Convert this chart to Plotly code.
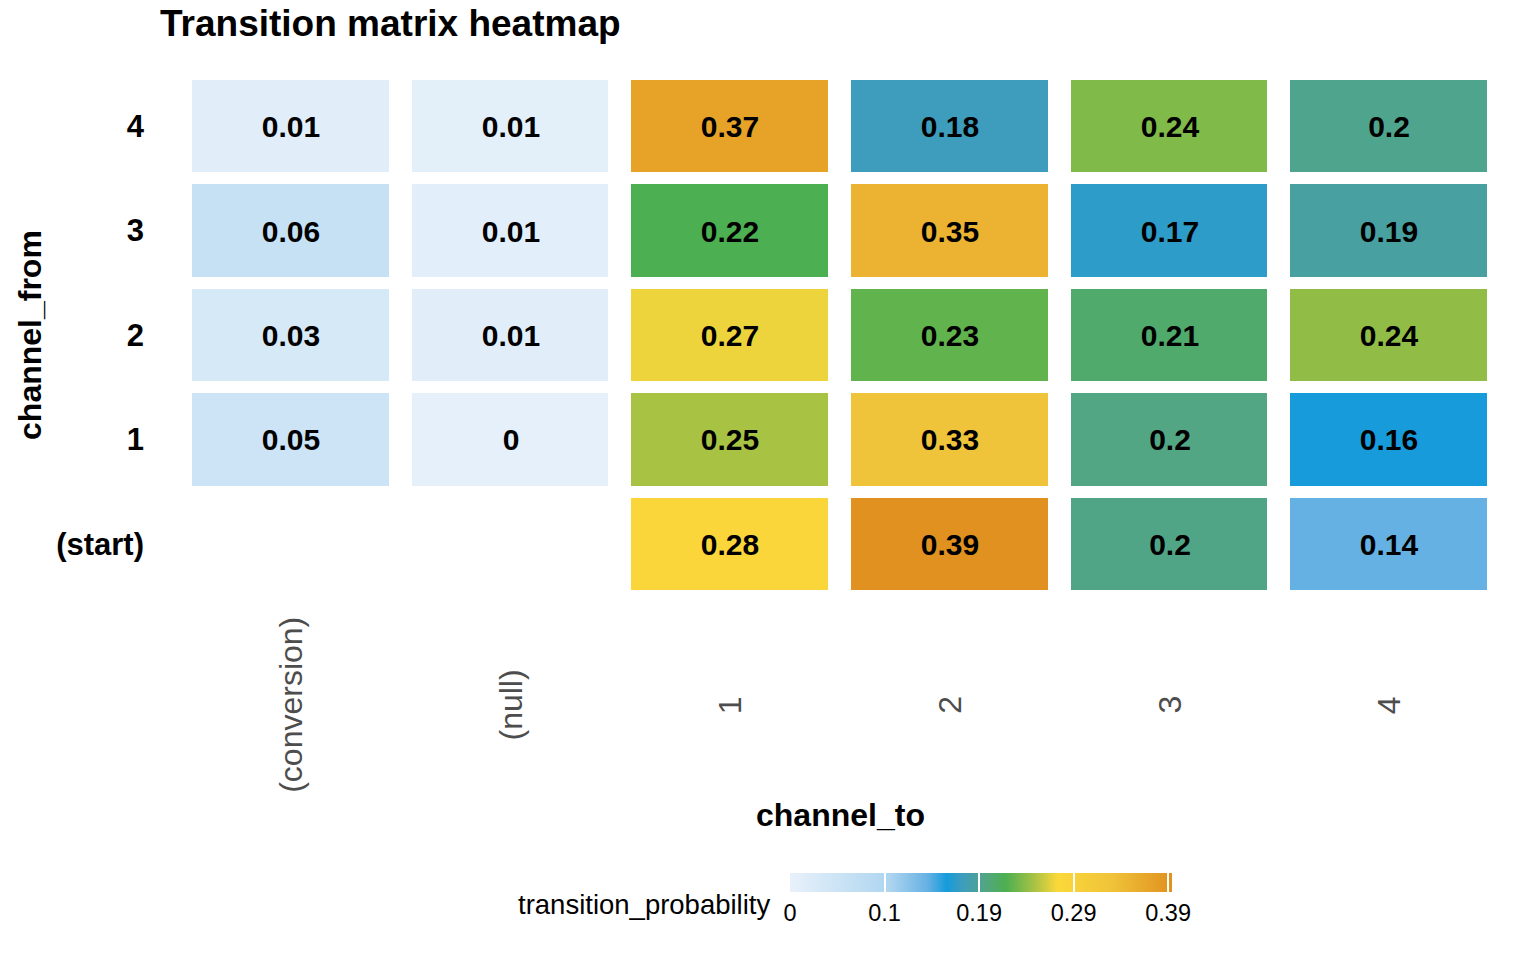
import numpy as np
import plotly.graph_objects as go

channel_to = ["(conversion)", "(null)", "1", "2", "3", "4"]
channel_from = ["(start)", "1", "2", "3", "4"]

# transition probabilities, one list per channel_from (bottom to top)
p_start = [None, None, 0.281, 0.394, 0.200, 0.142]
p_1 = [0.049, 0.004, 0.252, 0.331, 0.201, 0.162]
p_2 = [0.031, 0.012, 0.272, 0.229, 0.211, 0.2445]
p_3 = [0.058, 0.010, 0.222, 0.352, 0.171, 0.191]
p_4 = [0.012, 0.008, 0.372, 0.178, 0.239, 0.198]

cbar_ticks = [0, 0.0975, 0.195, 0.2925, 0.39]
cbar_labels = ["0", "0.1", "0.19", "0.29", "0.39"]

z = np.array([p_start, p_1, p_2, p_3, p_4], dtype=float)
text = [["" if np.isnan(v) else f"{round(v, 2):g}" for v in row] for row in z]

colorscale = [
    [0.0, "#e8f1fa"],
    [0.26, "#aed5f0"],
    [0.36, "#66b1e3"],
    [0.41, "#169bdc"],
    [0.45, "#3d9dbd"],
    [0.49, "#4aa09c"],
    [0.51, "#52a684"],
    [0.565, "#4caf50"],
    [0.64, "#a9c244"],
    [0.70, "#fbd83a"],
    [0.84, "#f0c43a"],
    [1.0, "#e0911f"],
]

FONT = "Liberation Sans, Arial, sans-serif"

fig = go.Figure(
    go.Heatmap(
        x=channel_to,
        y=channel_from,
        z=z,
        text=text,
        texttemplate="%{text}",
        textfont=dict(family=FONT, size=30, color="black", weight="bold"),
        colorscale=colorscale,
        zmin=0,
        zmax=np.nanmax(z),
        xgap=23,
        ygap=12,
        hoverongaps=False,
        colorbar=dict(
            orientation="h",
            lenmode="pixels",
            len=382,
            thickness=19,
            thicknessmode="pixels",
            x=0.607,
            xanchor="center",
            y=-0.5307,
            yanchor="top",
            xpad=0,
            ypad=0,
            outlinewidth=0,
            tickvals=cbar_ticks,
            ticktext=cbar_labels,
            ticks="inside",
            ticklen=19,
            tickcolor="white",
            tickwidth=1.5,
            tickfont=dict(family=FONT, size=23.5, color="black"),
        ),
    )
)

# x tick labels, centred vertically like ggplot's rotated labels
for i, c in enumerate(channel_to):
    fig.add_annotation(
        x=i, xref="x", y=-0.2088, yref="paper",
        text=c, showarrow=False, textangle=-90,
        xanchor="center", yanchor="middle",
        font=dict(family=FONT, size=32, color="#4d4d4d"),
    )

fig.add_annotation(
    x=0.5, xref="paper", y=-0.4195, yref="paper",
    xanchor="center", yanchor="middle",
    text="<b>channel_to</b>", showarrow=False,
    font=dict(family=FONT, size=32, color="black"),
)
fig.add_annotation(
    x=-0.1146, xref="paper", y=0.5, yref="paper",
    xanchor="center", yanchor="middle",
    text="<b>channel_from</b>", showarrow=False, textangle=-90,
    font=dict(family=FONT, size=32, color="black"),
)
fig.add_annotation(
    x=(772 - 181) / 1318, xref="paper", y=(596 - 904) / 522, yref="paper",
    xanchor="right", yanchor="middle",
    text="transition_probability", showarrow=False,
    font=dict(family=FONT, size=27.5, color="black"),
)

fig.update_layout(
    width=1536,
    height=960,
    margin=dict(l=173, r=45, t=66, b=372),
    plot_bgcolor="white",
    paper_bgcolor="white",
    title=dict(
        text="<b>Transition matrix heatmap</b>",
        x=152 / 1536, xanchor="left",
        y=1 - 15 / 960, yanchor="middle", yref="container",
        font=dict(family=FONT, size=37, color="black"),
    ),
    xaxis=dict(showgrid=False, zeroline=False, showticklabels=False, ticks=""),
    yaxis=dict(
        showgrid=False, zeroline=False, ticks="",
        ticklabelstandoff=36,
        tickfont=dict(family=FONT, size=31, color="black", weight="bold"),
    ),
)

fig.write_html("out.html")
